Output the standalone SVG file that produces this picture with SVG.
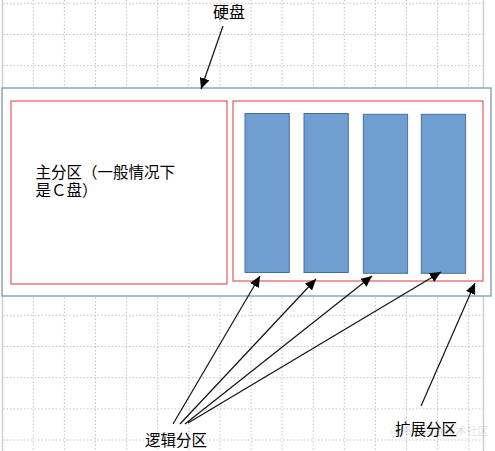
<svg xmlns="http://www.w3.org/2000/svg" width="495" height="451" viewBox="0 0 495 451">
<style>
.grid line{stroke:#c4c4c4;stroke-width:1;stroke-dasharray:1.5,2}
.edge{stroke:#cfcfcf;stroke-width:1.5}
.lbl{font-family:"Noto Sans CJK SC","Noto Sans",sans-serif;fill:#000}
.red{fill:#fff;stroke:#e05a5a;stroke-width:1.2}
.bar{fill:#6f9fd1;stroke:#4a6f9c;stroke-width:1}
.conn line{stroke:#111;stroke-width:1.2;marker-end:url(#ah)}
</style>
<defs>
<marker id="ah" markerUnits="userSpaceOnUse" markerWidth="12" markerHeight="10" refX="11" refY="5" orient="auto">
<path d="M0,0 L11,5 L0,10 Z" fill="#000"/>
</marker>
</defs>
<rect width="495" height="451" fill="#fff"/>
<g class="grid" id="grid">
<line x1="33.3" y1="0" x2="33.3" y2="451"/>
<line x1="64.4" y1="0" x2="64.4" y2="451"/>
<line x1="95.5" y1="0" x2="95.5" y2="451"/>
<line x1="126.6" y1="0" x2="126.6" y2="451"/>
<line x1="157.7" y1="0" x2="157.7" y2="451"/>
<line x1="188.8" y1="0" x2="188.8" y2="451"/>
<line x1="219.9" y1="0" x2="219.9" y2="451"/>
<line x1="251" y1="0" x2="251" y2="451"/>
<line x1="282.1" y1="0" x2="282.1" y2="451"/>
<line x1="313.2" y1="0" x2="313.2" y2="451"/>
<line x1="344.3" y1="0" x2="344.3" y2="451"/>
<line x1="375.4" y1="0" x2="375.4" y2="451"/>
<line x1="406.5" y1="0" x2="406.5" y2="451"/>
<line x1="437.6" y1="0" x2="437.6" y2="451"/>
<line x1="468.7" y1="0" x2="468.7" y2="451"/>
<line x1="3" y1="3.3" x2="483" y2="3.3"/>
<line x1="3" y1="34.5" x2="483" y2="34.5"/>
<line x1="3" y1="65.6" x2="483" y2="65.6"/>
<line x1="3" y1="315.3" x2="483" y2="315.3"/>
<line x1="3" y1="346.5" x2="483" y2="346.5"/>
<line x1="3" y1="377.7" x2="483" y2="377.7"/>
<line x1="3" y1="408.9" x2="483" y2="408.9"/>
<line x1="3" y1="440" x2="483" y2="440"/>
</g>
<line class="edge" x1="2.5" y1="0" x2="2.5" y2="451"/>
<line class="edge" x1="483.5" y1="0" x2="483.5" y2="451"/>
<g id="disk">
<rect x="2" y="88" width="489" height="208" fill="#fff" stroke="#8ea3c1" stroke-width="1.5"/>
</g>
<g id="primary">
<rect class="red" x="11" y="101" width="216" height="183"/>
<text class="lbl" font-size="15.5"><tspan x="35.5" y="178">主分区（一般情况下</tspan><tspan x="35.5" y="196">是Ｃ盘）</tspan></text>
</g>
<g id="extended">
<rect class="red" x="233" y="101" width="250" height="180"/>
</g>
<g id="logical1"><rect class="bar" x="245" y="113.5" width="44.3" height="159"/></g>
<g id="logical2"><rect class="bar" x="304" y="113.5" width="44.3" height="159"/></g>
<g id="logical3"><rect class="bar" x="363.3" y="114.3" width="44.3" height="159"/></g>
<g id="logical4"><rect class="bar" x="421.3" y="114.3" width="44.3" height="159"/></g>
<g id="label-disk"><text class="lbl" font-size="16" x="213" y="18">硬盘</text></g>
<g id="label-logical"><text class="lbl" font-size="15.5" x="145" y="446">逻辑分区</text></g>
<g id="label-extended"><text class="lbl" font-size="15.5" x="395" y="435">扩展分区</text></g>
<text x="390" y="435" font-family="Noto Sans CJK SC,sans-serif" font-size="11" fill="#000" opacity="0.12">@稀土掘金技术社区</text>
<g class="conn" id="connectors">
<line x1="223" y1="26" x2="201" y2="89"/>
<line x1="173" y1="424" x2="260" y2="276"/>
<line x1="180" y1="424" x2="316" y2="279"/>
<line x1="185" y1="424" x2="372" y2="276"/>
<line x1="188" y1="423" x2="441" y2="272"/>
<line x1="421" y1="406" x2="475" y2="283"/>
</g>
</svg>
